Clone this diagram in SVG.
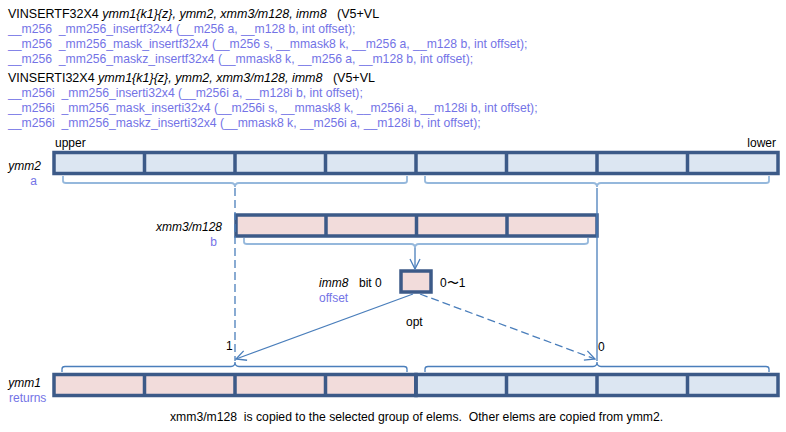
<svg xmlns="http://www.w3.org/2000/svg" width="786" height="432" viewBox="0 0 786 432">
<defs>
<style>
text{font-family:"Liberation Sans",Arial,sans-serif;font-size:12px;fill:#000;white-space:pre}
.h{font-size:12.5px}
.f{font-size:12.2px}
.b{fill:#7373e6}
.i{font-style:italic}
.reg{stroke:#3c5a88;stroke-width:3.5}
.bl{fill:#dce6f2}
.pk{fill:#f2dcdb}
.div{stroke:#3c5a88;stroke-width:3.5}
.con{fill:none;stroke:#4a7ebb;stroke-width:1.3}
.dash{stroke-dasharray:8 4}
.br1{fill:none;stroke:#95b8dc;stroke-width:1.8}
.br2{fill:none;stroke:#4a7ebb;stroke-width:1.3}
</style>
<marker id="arr" viewBox="0 0 12 12" refX="11" refY="6" markerWidth="12" markerHeight="12" markerUnits="userSpaceOnUse" orient="auto">
<path d="M1,1 L11,6 L1,11" fill="none" stroke="#4a7ebb" stroke-width="1.3"/>
</marker>
</defs>
<rect width="786" height="432" fill="#fff"/>
<g id="header">
<text class="h" x="8" y="17.5" xml:space="preserve">VINSERTF32X4 <tspan class="i">ymm1{k1}{z}, ymm2, xmm3/m128, imm8</tspan>   (V5+VL</text>
<text class="f b" x="8" y="32.5" xml:space="preserve">__m256  _mm256_insertf32x4 (__m256 a, __m128 b, int offset);</text>
<text class="f b" x="8" y="47.5" xml:space="preserve">__m256  _mm256_mask_insertf32x4 (__m256 s, __mmask8 k, __m256 a, __m128 b, int offset);</text>
<text class="f b" x="8" y="62.5" xml:space="preserve">__m256  _mm256_maskz_insertf32x4 (__mmask8 k, __m256 a, __m128 b, int offset);</text>
<text class="h" x="8" y="82" xml:space="preserve">VINSERTI32X4 <tspan class="i">ymm1{k1}{z}, ymm2, xmm3/m128, imm8</tspan>   (V5+VL</text>
<text class="f b" x="8" y="97" xml:space="preserve">__m256i  _mm256_inserti32x4 (__m256i a, __m128i b, int offset);</text>
<text class="f b" x="8" y="112" xml:space="preserve">__m256i  _mm256_mask_inserti32x4 (__m256i s, __mmask8 k, __m256i a, __m128i b, int offset);</text>
<text class="f b" x="8" y="127" xml:space="preserve">__m256i  _mm256_maskz_inserti32x4 (__mmask8 k, __m256i a, __m128i b, int offset);</text>
</g>
<g id="ymm2">
<text x="55" y="147">upper</text>
<text x="776" y="147" text-anchor="end">lower</text>
<text class="i" x="41" y="170" text-anchor="end">ymm2</text>
<text class="b" x="37" y="185" text-anchor="end">a</text>
<rect class="reg bl" x="54" y="152.5" width="724" height="21"/>
<path class="div" d="M144.5,152.5V173.5M235,152.5V173.5M325.5,152.5V173.5M416,152.5V173.5M506.5,152.5V173.5M597,152.5V173.5M687.5,152.5V173.5"/>
</g>
<g id="xmm3">
<text class="i" x="222" y="231" text-anchor="end">xmm3/m128</text>
<text class="b" x="217" y="246" text-anchor="end">b</text>
<rect class="reg pk" x="236" y="215" width="361" height="21"/>
<path class="div" d="M326,215V236M416.5,215V236M507,215V236"/>
</g>
<g id="imm8">
<text class="i" x="319" y="287">imm8</text>
<text x="359" y="287">bit 0</text>
<text class="b" x="319" y="302">offset</text>
<rect class="reg pk" x="401" y="271" width="30" height="21"/>
<text x="440" y="287">0〜1</text>
<text x="406" y="326">opt</text>
</g>
<g id="ymm1">
<text class="i" x="41" y="387" text-anchor="end">ymm1</text>
<text class="b" x="9" y="402">returns</text>
<rect class="reg pk" x="54" y="374.5" width="362" height="21"/>
<rect class="reg bl" x="416" y="374.5" width="362" height="21"/>
<path class="div" d="M144.5,374.5V395.5M235,374.5V395.5M325.5,374.5V395.5M416,374.5V395.5M506.5,374.5V395.5M597,374.5V395.5M687.5,374.5V395.5"/>
<text x="226" y="350">1</text>
<text x="598" y="351">0</text>
</g>
<g id="connectors">
<path class="br1" d="M63,176V181Q63,183 66,183H231Q235,183 235,187Q235,183 239,183H404Q407,183 407,181V176"/>
<path class="br1" d="M425,176V181Q425,183 428,183H593Q597,183 597,187Q597,183 601,183H766Q769,183 769,181V176"/>
<path class="br1" d="M244,238V242Q244,244 247,244H411Q415,244 415,248Q415,244 419,244H584Q588,244 588,242V238"/>
<path class="br2" d="M62,372V369Q62,366.5 65,366.5H231Q235,366.5 235,362Q235,366.5 239,366.5H404Q407,366.5 407,369V372"/>
<path class="br2" d="M425,372V369Q425,366.5 428,366.5H593Q597,366.5 597,362Q597,366.5 601,366.5H766Q769,366.5 769,369V372"/>
<path class="con dash" d="M235,188V361"/>
<path class="con" d="M597,188V361"/>
<path class="con" d="M415,248V269" marker-end="url(#arr)"/>
<path class="con" d="M413,294L236,359" marker-end="url(#arr)"/>
<path class="con dash" d="M420,294L595,359" marker-end="url(#arr)"/>
</g>
<text class="f" x="170" y="421" xml:space="preserve">xmm3/m128  is copied to the selected group of elems.  Other elems are copied from ymm2.</text>
</svg>
